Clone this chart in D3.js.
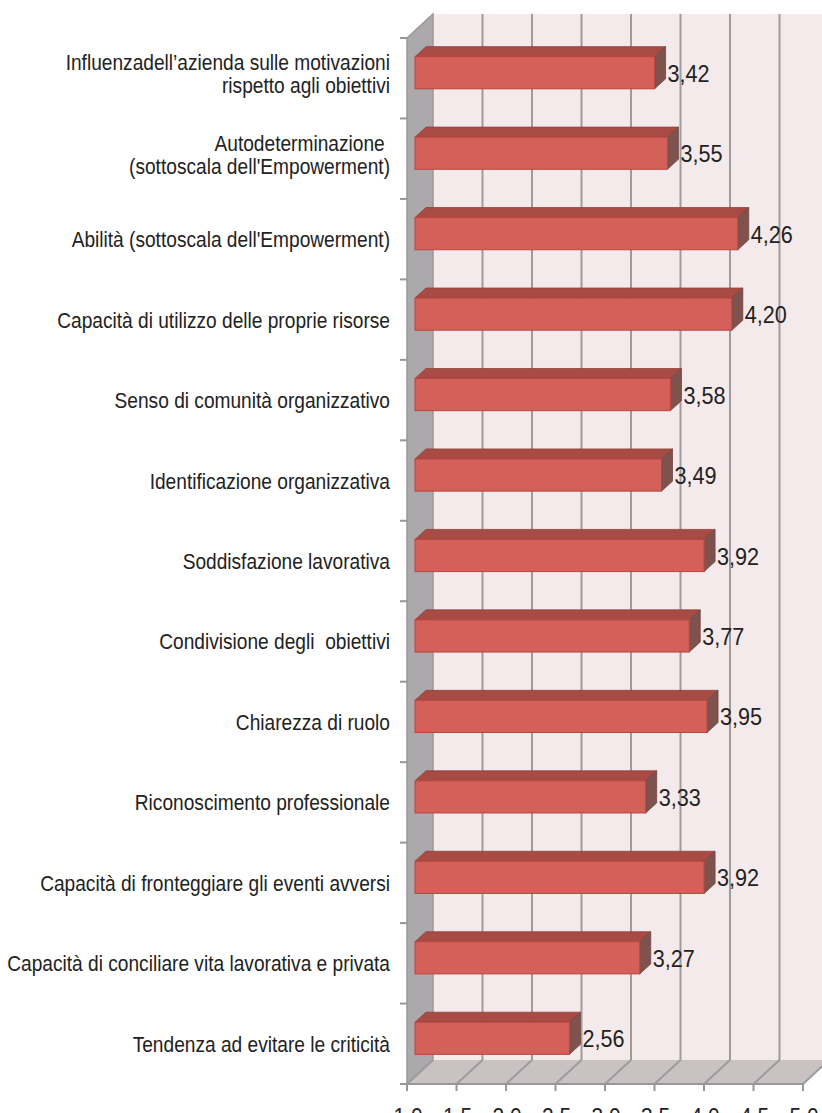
<!DOCTYPE html>
<html>
<head>
<meta charset="utf-8">
<script src="https://cdn.jsdelivr.net/npm/d3@7"></script>
<style>
  html, body { margin: 0; padding: 0; background: #fff; }
  svg { display: block; }
  .cat { font-family: "Liberation Sans", Arial, sans-serif; font-size: 22px; fill: #222; white-space: pre; }
  .val { font-family: "Liberation Sans", Arial, sans-serif; font-size: 24px; fill: #222; }
  .tick { font-family: "Liberation Sans", Arial, sans-serif; font-size: 24px; fill: #222; }
</style>
</head>
<body>
<div id="chart"></div>
<script>
// Categories (top to bottom), lines split with "\n".
const categories = [
  "Influenzadell’azienda sulle motivazioni\nrispetto agli obiettivi",
  "Autodeterminazione \n(sottoscala dell'Empowerment)",
  "Abilità (sottoscala dell'Empowerment)",
  "Capacità di utilizzo delle proprie risorse",
  "Senso di comunità organizzativo",
  "Identificazione organizzativa",
  "Soddisfazione lavorativa",
  "Condivisione degli  obiettivi",
  "Chiarezza di ruolo",
  "Riconoscimento professionale",
  "Capacità di fronteggiare gli eventi avversi",
  "Capacità di conciliare vita lavorativa e privata",
  "Tendenza ad evitare le criticità"
];

const values = [3.42, 3.55, 4.26, 4.20, 3.58, 3.49, 3.92, 3.77, 3.95, 3.33, 3.92, 3.27, 2.56];

const tickValues = [1.0, 1.5, 2.0, 2.5, 3.0, 3.5, 4.0, 4.5, 5.0];
const tickLabels = ["1,0", "1,5", "2,0", "2,5", "3,0", "3,5", "4,0", "4,5", "5,0"];

const width = 822;
const height = 1113;

// 3D look: offset of the back plane from the front plane.
const depthX = 26, depthY = -24;
// Bars sit a bit behind the front plane and have their own depth.
const barOffX = 8, barOffY = -5.5;
const barDepthX = 11, barDepthY = -10;
// The original uses a condensed typeface: squeeze text horizontally.
const squeeze = 0.87;

const svg = d3.select("#chart")
  .append("svg")
  .attr("width", width)
  .attr("height", height);

const x = d3.scaleLinear()
  .domain([1, 5])
  .range([407, 803]);

const y = d3.scaleBand()
  .domain(categories)
  .range([38, 1084])
  .paddingInner(0.6)
  .paddingOuter(0.3);

const yTop = 38, yBottom = 1084;
const x0 = x.range()[0], x1 = x.range()[1];

const fmt = d3.formatLocale({ decimal: ",", thousands: ".", grouping: [3], currency: ["€", ""] }).format(".2f");

const poly = pts => pts.map(p => p.join(",")).join(" ");

// Back wall
svg.append("polygon")
  .attr("points", poly([[x0 + depthX, yTop + depthY], [x1 + depthX, yTop + depthY], [x1 + depthX, yBottom + depthY], [x0 + depthX, yBottom + depthY]]))
  .attr("fill", "#f5eaeb");

// Floor
svg.append("polygon")
  .attr("points", poly([[x0, yBottom], [x1, yBottom], [x1 + depthX, yBottom + depthY], [x0 + depthX, yBottom + depthY]]))
  .attr("fill", "#c9c1c2");

// Left wall
svg.append("polygon")
  .attr("points", poly([[x0, yTop], [x0 + depthX, yTop + depthY], [x0 + depthX, yBottom + depthY], [x0, yBottom]]))
  .attr("fill", "#aba9ab")
  .attr("stroke", "#9a9899")
  .attr("stroke-width", 1.5);

// Gridlines on the back wall and across the floor
const grid = svg.append("g").attr("stroke", "#9d9b9c").attr("stroke-width", 2);
grid.selectAll(".gv")
  .data(tickValues.slice(1))
  .enter()
  .append("line")
  .attr("x1", d => x(d) + depthX)
  .attr("x2", d => x(d) + depthX)
  .attr("y1", yTop + depthY)
  .attr("y2", yBottom + depthY);
grid.selectAll(".gf")
  .data(tickValues)
  .enter()
  .append("line")
  .attr("x1", d => x(d))
  .attr("x2", d => x(d) + depthX)
  .attr("y1", yBottom)
  .attr("y2", yBottom + depthY);

// Front axes
const axis = svg.append("g").attr("stroke", "#979797").attr("stroke-width", 2);
axis.append("line")
  .attr("x1", x0 - 7).attr("x2", x1)
  .attr("y1", yBottom).attr("y2", yBottom);
axis.selectAll(".xt")
  .data(tickValues)
  .enter()
  .append("line")
  .attr("x1", d => x(d)).attr("x2", d => x(d))
  .attr("y1", yBottom).attr("y2", yBottom + 7);
const boundaries = d3.range(categories.length + 1).map(i => yTop + i * (yBottom - yTop) / categories.length);
axis.selectAll(".yt")
  .data(boundaries)
  .enter()
  .append("line")
  .attr("x1", x0 - 7).attr("x2", x0)
  .attr("y1", d => d).attr("y2", d => d);

// Bars
const bars = svg.selectAll(".bar")
  .data(categories.map((c, i) => ({ cat: c, value: values[i] })))
  .enter()
  .append("g")
  .attr("class", "bar");

const fx0 = () => x(1) + barOffX;
const fx1 = d => x(d.value) + barOffX;
const fy0 = d => y(d.cat) + barOffY;
const fy1 = d => y(d.cat) + y.bandwidth() + barOffY;

// top face
bars.append("polygon")
  .attr("points", d => poly([[fx0(), fy0(d)], [fx1(d), fy0(d)], [fx1(d) + barDepthX, fy0(d) + barDepthY], [fx0() + barDepthX, fy0(d) + barDepthY]]))
  .attr("fill", "#a84b44")
  .attr("stroke", "#94403a")
  .attr("stroke-width", 0.8);

// side face
bars.append("polygon")
  .attr("points", d => poly([[fx1(d), fy0(d)], [fx1(d) + barDepthX, fy0(d) + barDepthY], [fx1(d) + barDepthX, fy1(d) + barDepthY], [fx1(d), fy1(d)]]))
  .attr("fill", "#7f524d")
  .attr("stroke", "#6f4642")
  .attr("stroke-width", 0.8);

// front face
bars.append("rect")
  .attr("x", fx0())
  .attr("y", d => fy0(d))
  .attr("width", d => fx1(d) - fx0())
  .attr("height", y.bandwidth())
  .attr("fill", "#d4605a")
  .attr("stroke", "#b8463f")
  .attr("stroke-width", 1);

// Value labels
bars.append("text")
  .attr("class", "val")
  .attr("transform", d => `translate(${fx1(d) + barDepthX + 2},${fy0(d) + y.bandwidth() / 2 + 9}) scale(0.9,1)`)
  .text(d => fmt(d.value));

// Category labels
const labels = svg.selectAll(".cat")
  .data(categories)
  .enter()
  .append("text")
  .attr("class", "cat")
  .attr("text-anchor", "end")
  .attr("transform", d => `translate(390,${y(d) + y.bandwidth() / 2}) scale(${squeeze},1)`);

labels.each(function (d) {
  const lines = d.split("\n");
  const t = d3.select(this);
  lines.forEach((line, i) => {
    t.append("tspan")
      .attr("x", 0)
      .attr("y", lines.length === 1 ? 8 : (i === 0 ? -8 : 15))
      .text(line);
  });
});

// X tick labels (cut off at the bottom edge, as in the original)
svg.selectAll(".tick")
  .data(tickValues)
  .enter()
  .append("text")
  .attr("class", "tick")
  .attr("text-anchor", "middle")
  .attr("transform", d => `translate(${x(d) + 1},${yBottom + 41}) scale(${squeeze},1)`)
  .text((d, i) => tickLabels[i]);
</script>
</body>
</html>
